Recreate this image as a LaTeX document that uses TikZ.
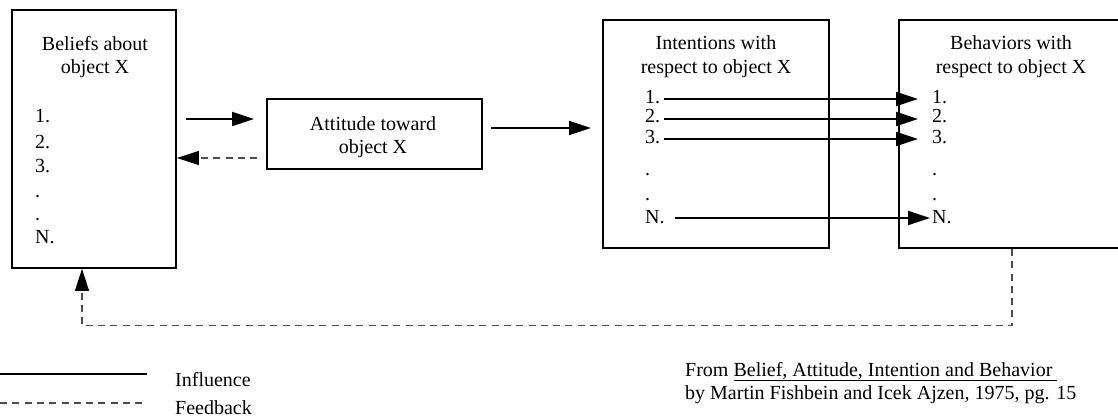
\documentclass[tikz,border=0pt]{standalone}
\usepackage{fontspec}
\setmainfont{Liberation Serif}
\usetikzlibrary{arrows.meta,calc}

\tikzset{
  txt/.style={inner sep=0pt, font=\fontsize{20pt}{23pt}\selectfont},
  box/.style={draw, line width=1.8pt, inner sep=0pt},
  infl/.style={line width=1.8pt, -{Triangle[length=22pt,width=14pt]}},
  infline/.style={line width=1.8pt},
  fb/.style={line width=1.1pt, draw=black!70, dash pattern=on 7pt off 5.3pt,
             -{Triangle[length=22pt,width=14pt,fill=black,color=black]}},
  fbline/.style={line width=1.1pt, draw=black!70, dash pattern=on 7pt off 5.3pt},
}

\begin{document}
\begin{tikzpicture}[x=1pt,y=-1pt]
\useasboundingbox (0,0) rectangle (1118,417);

% boxes
\node[box, minimum width=164pt, minimum height=258pt] (bel) at (94,139) {};
\node[box, minimum width=215pt, minimum height=70pt] (att) at (374.5,134) {};
\node[box, minimum width=226pt, minimum height=228pt] (int) at (716,134) {};
\node[box, minimum width=226pt, minimum height=228pt] (beh) at (1012,134) {};

% beliefs
\node[txt, anchor=base] (belt1) at (95,51) {Beliefs about};
\node[txt, anchor=base] (belt2) at (95,74) {object X};
\node[txt, anchor=base west] (e1) at (35,123) {1.};
\node[txt, anchor=base west] (e2) at (35,148) {2.};
\node[txt, anchor=base west] (e3) at (35,172) {3.};
\node[txt, anchor=base west] (e4) at (35,197) {.};
\node[txt, anchor=base west] (e5) at (35,220) {.};
\node[txt, anchor=base west] (eN) at (35,243) {N.};

% attitude
\node[txt, anchor=base] (attt1) at (373,130) {Attitude toward};
\node[txt, anchor=base] (attt2) at (373,153) {object X};

% intentions
\node[txt, anchor=base] (intt1) at (716,50) {Intentions with};
\node[txt, anchor=base] (intt2) at (716,74) {respect to object X};
\node[txt, anchor=base west] (i1) at (645,103) {1.};
\node[txt, anchor=base west] (i2) at (645,123) {2.};
\node[txt, anchor=base west] (i3) at (645,143) {3.};
\node[txt, anchor=base west] (i4) at (645,175) {.};
\node[txt, anchor=base west] (i5) at (645,200) {.};
\node[txt, anchor=base west] (iN) at (645,223) {N.};

% behaviors
\node[txt, anchor=base] (beht1) at (1011,50) {Behaviors with};
\node[txt, anchor=base] (beht2) at (1011,74) {respect to object X};
\node[txt, anchor=base west] (b1) at (932,103) {1.};
\node[txt, anchor=base west] (b2) at (932,123) {2.};
\node[txt, anchor=base west] (b3) at (932,143) {3.};
\node[txt, anchor=base west] (b4) at (932,175) {.};
\node[txt, anchor=base west] (b5) at (932,200) {.};
\node[txt, anchor=base west] (bN) at (932,223) {N.};

% influence arrows
\draw[infl] ($(bel.east |- att.west)+(9,-15)$) -- ($(att.west)+(-12,-15)$);
\draw[fb] ($(att.west)+(-9,24)$) -- ($(bel.east |- att.west)+(0,24)$);
\draw[infl] ($(att.east)+(8,-6)$) -- ($(int.west |- att.east)+(-11,-6)$);

\draw[infl] ($(i1.base east)+(4,-4)$) -- ($(b1.base west)+(-14,-4)$);
\draw[infl] ($(i2.base east)+(4,-4)$) -- ($(b2.base west)+(-14,-4)$);
\draw[infl] ($(i3.base east)+(4,-4)$) -- ($(b3.base west)+(-14,-4)$);
\draw[infl] ($(iN.base east)+(10,-5)$) -- ($(bN.base west)+(-2,-5)$);

% feedback loop
\draw[fb] (beh.south) |- ($(bel.south)+(-12,57)$) -- ($(bel.south)+(-12,0)$);

% legend
\coordinate (la) at (0,374);
\coordinate (lb) at (147,374);
\coordinate (lc) at (0,403);
\coordinate (ld) at (147,403);
\draw[infline] (la) -- (lb);
\draw[fbline] (lc) -- (ld);
\node[txt, anchor=base west] (linf) at (175,386) {Influence};
\node[txt, anchor=base west] (lfb) at (175,414.5) {Feedback};

% source
\node[txt, anchor=base west] (src1) at (685,376) {From \underline{Belief, Attitude, Intention and Behavior\ }};
\node[txt, anchor=base west] (src2) at (685,399) {by Martin Fishbein and Icek Ajzen, 1975, pg. 15};
\end{tikzpicture}
\end{document}
